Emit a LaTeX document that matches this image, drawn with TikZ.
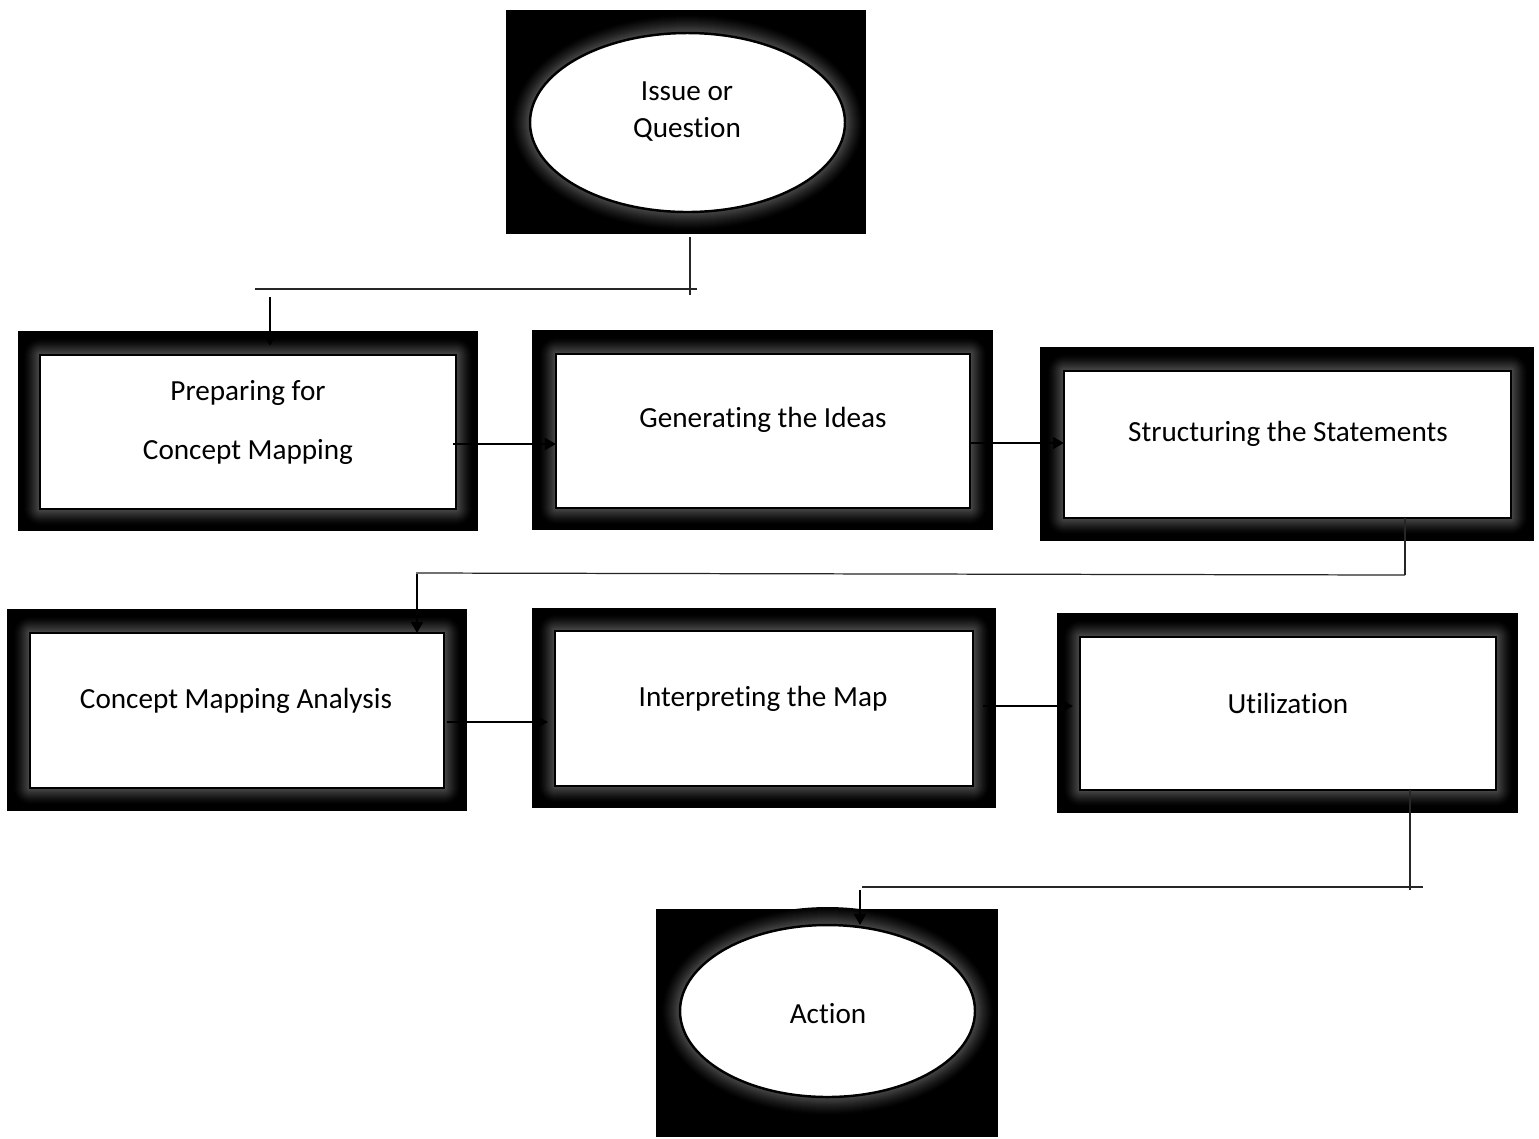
\documentclass[tikz,border=0pt]{standalone}
\usepackage{fontspec}
\setmainfont{Carlito}[Ligatures=NoCommon]
\usetikzlibrary{shapes.geometric,arrows.meta,calc}

\tikzset{
  inbox/.style={draw=black, line width=0.7pt, fill=white, rectangle, inner sep=0pt, outer sep=0pt},
  inoval/.style={draw=black, line width=0.7pt, fill=white, ellipse, inner sep=0pt, outer sep=0pt},
  caption/.style={font=\fontsize{8.3pt}{10.5pt}\selectfont, align=center, inner sep=0pt},
  arr/.style={line width=0.75pt, -{Triangle[length=3.2pt,width=3.4pt]}},
  tline/.style={line width=0.35pt, black!85},
}

% black panel with a soft grey glow around a white rectangle
% #1 name, #2-#5 panel corners, #6-#9 box corners
\newcommand\glowrect[9]{%
  \fill[black] (#2,#3) rectangle (#4,#5);
  \foreach \d in {16,15,...,1}{%
    \pgfmathsetmacro\glv{31*(1-\d/17)^1.3}%
    \fill[white!\glv!black, rounded corners=\d*0.2845pt] ({#6-\d},{#7-\d}) rectangle ({#8+\d},{#9+\d});
  }%
  \pgfmathsetmacro\gbw{(#8-#6)*0.01}%
  \pgfmathsetmacro\gbh{(#9-#7)*0.01}%
  \node[inbox, minimum width=\gbw cm, minimum height=\gbh cm] (#1) at ({(#6+#8)/2},{(#7+#9)/2}) {};
}

% black panel with a soft grey glow around a white ellipse
% #1 name, #2-#5 panel corners, #6-#7 centre, #8-#9 radii
\newcommand\glowoval[9]{%
  \fill[black] (#2,#3) rectangle (#4,#5);
  \foreach \d in {18,17,...,1}{%
    \pgfmathsetmacro\glv{30*(1-\d/19)^1.3}%
    \fill[white!\glv!black] (#6,#7) ellipse ({#8+\d} and {#9+\d});
  }%
  \pgfmathsetmacro\gbw{2*#8*0.01}%
  \pgfmathsetmacro\gbh{2*#9*0.01}%
  \node[inoval, minimum width=\gbw cm, minimum height=\gbh cm] (#1) at (#6,#7) {};
}

\begin{document}
\begin{tikzpicture}[x=0.01cm, y=-0.01cm]
  \useasboundingbox (0,0) rectangle (1539,1138);
  \fill[white] (0,0) rectangle (1539,1138);

  % stages
  \glowoval{issue}{506}{10}{866}{234}{687.5}{122.5}{157.5}{89.5}
  \glowrect{prep}{18}{331}{478}{531}{40}{355}{456}{509}
  \glowrect{gen}{532}{330}{993}{530}{556}{354}{970}{508}
  \glowrect{struct}{1040}{347}{1534}{541}{1064}{371}{1511}{518}
  \glowrect{anal}{7}{609}{467}{811}{30}{633}{444}{788}
  \glowrect{interp}{532}{608}{996}{808}{555}{631}{973}{786}
  \glowrect{util}{1057}{613}{1518}{813}{1080}{637}{1496}{790}
  \glowoval{action}{656}{909}{998}{1137}{827.5}{1011}{147.5}{86}

  % captions
  \node[caption] (issueT) at (687,112) {Issue or\\Question};
  \node[caption] (prepT) at (248,422) {Preparing for\\[6.3pt]Concept Mapping};
  \node[caption] (genT) at (763,420) {Generating the Ideas};
  \node[caption] (structT) at (1288,434) {Structuring the Statements};
  \node[caption] (analT) at (236,701) {Concept Mapping Analysis};
  \node[caption] (interpT) at (763,699) {Interpreting the Map};
  \node[caption] (utilT) at (1288,703) {Utilization};
  \node[caption] (actionT) at (828,1014) {Action};

  % issue -> preparing
  \coordinate (c1v) at (690,295);
  \coordinate (c1l) at (255,289);
  \coordinate (c1r) at (697,289);
  \coordinate (c1a) at (270,297);
  \draw[tline] (690,237) -- (c1v);
  \draw[tline] (c1l) -- (c1r);
  \draw[arr, shorten >=2.6pt] (c1a) -- (c1a |- prep.north);

  % first row
  \draw[arr] ($(prep.east)+(-3,12)$) coordinate (a1) -- (a1 -| gen.west);
  \draw[arr] ($(gen.east)+(0,12)$) coordinate (a2) -- (a2 -| struct.west);

  % structuring -> analysis
  \coordinate (c2r) at (1405,575);
  \coordinate (c2l) at (416,573);
  \coordinate (c2a) at (417,574);
  \draw[tline] (struct.south -| c2r) -- (c2r);
  \draw[tline] (c2l) -- (c2r);
  \draw[arr] (c2a) -- (c2a |- anal.north);

  % second row
  \draw[arr, shorten >=2pt] ($(anal.east)+(3,11.5)$) coordinate (a3) -- (a3 -| interp.west);
  \draw[arr, shorten >=2pt] ($(interp.east)+(10,-2.5)$) coordinate (a4) -- (a4 -| util.west);

  % utilization -> action
  \coordinate (c3v) at (1410,890);
  \coordinate (c3l) at (862,887);
  \coordinate (c3r) at (1423,887);
  \coordinate (c3a) at (860,890);
  \draw[tline] (util.south -| c3v) -- (c3v);
  \draw[tline] (c3l) -- (c3r);
  \draw[arr] (c3a) -- (c3a |- action.north);
\end{tikzpicture}
\end{document}
